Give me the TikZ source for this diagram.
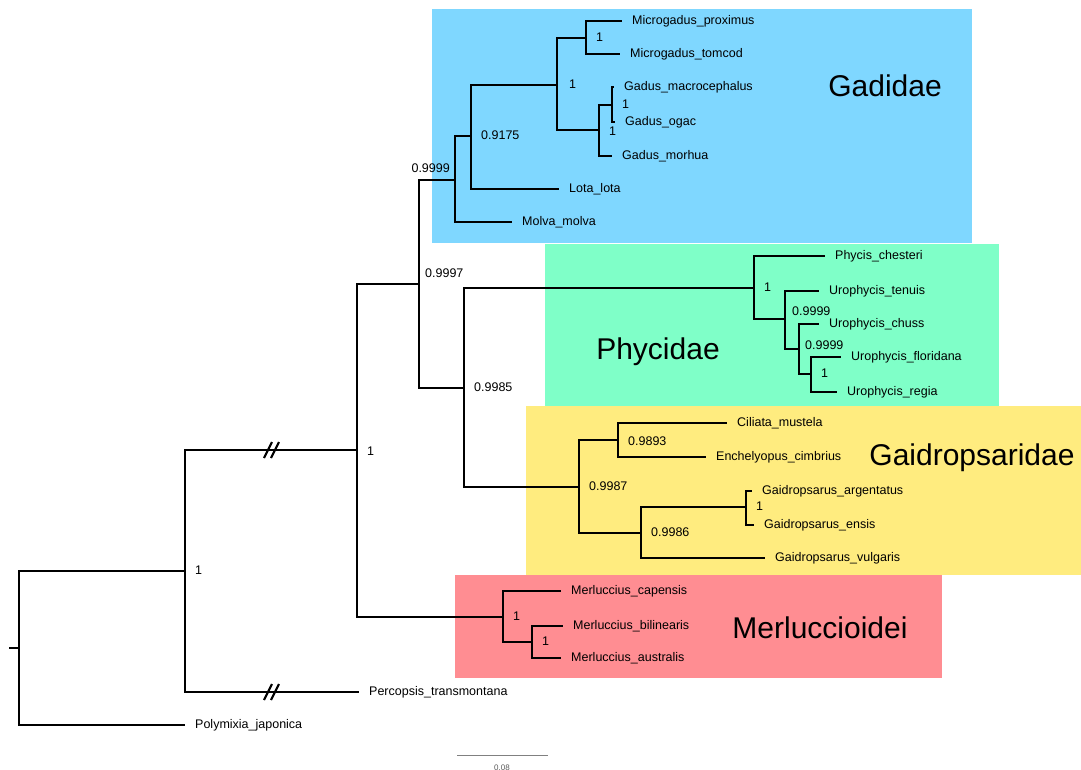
\documentclass[tikz,border=0pt]{standalone}
\usepackage{fontspec}
\setmainfont{Liberation Sans}
\usepackage{tikz}
\usetikzlibrary{positioning}
\usepackage{xcolor}
\definecolor{gadblue}{RGB}{127,215,255}
\definecolor{phygreen}{RGB}{127,255,200}
\definecolor{gaiyellow}{RGB}{255,236,127}
\definecolor{merred}{RGB}{255,141,146}

\begin{document}
\begin{tikzpicture}[x=1pt,y=-1pt]
	\useasboundingbox (0,0) rectangle (1081,770);
	\tikzstyle{every node}=[font=\fontsize{12.5}{14}\selectfont, inner sep=0pt, text height=7pt, text depth=0pt]
	\tikzstyle{leaf}=[anchor=west, inner xsep=10pt]
	\tikzstyle{supp}=[anchor=west, inner xsep=10pt]
	\tikzstyle{clade}=[font=\fontsize{30}{34}\selectfont, text height=22pt]
	\tikzstyle{branch}=[line width=2.7pt]
	\tikzstyle{brk}=[line width=2.2pt]
	\fill [gadblue] (432,9) rectangle (972,243);
	\fill [phygreen] (545,244) rectangle (999,406);
	\fill [gaiyellow] (526,406) rectangle (1081,575);
	\fill [merred] (455,575) rectangle (942,678);
	\draw (885,86) node (gadidae) [clade] {Gadidae};
	\draw (658,348) node (phycidae) [clade] {Phycidae};
	\draw (972,454) node (gaidrop) [clade] {Gaidropsaridae};
	\draw (820,627) node (merluc) [clade] {Merluccioidei};
	\path (9,648) coordinate (stub) (19,648) coordinate (nR) (185,571) coordinate (nA) (357,450) coordinate (nB)
		(419,284) coordinate (nC) (455,180) coordinate (nD) (471,136) coordinate (nE) (557,85) coordinate (nF)
		(586,38) coordinate (nG) (599,130) coordinate (nH) (612,105) coordinate (nI) (464,388) coordinate (nJ)
		(754,288) coordinate (nK) (785,319) coordinate (nL) (799,349) coordinate (nM) (811,374) coordinate (nN)
		(579,487) coordinate (nO) (618,440) coordinate (nP) (641,533) coordinate (nQ) (746,507) coordinate (nU)
		(503,617) coordinate (nS) (532,642) coordinate (nT);
	\draw (622,21) node (mprox) [leaf] {Microgadus\_proximus};
	\draw (620,54) node (mtom) [leaf] {Microgadus\_tomcod};
	\draw (614,87) node (gmac) [leaf] {Gadus\_macrocephalus};
	\draw (615,122) node (gogac) [leaf] {Gadus\_ogac};
	\draw (612,156) node (gmor) [leaf] {Gadus\_morhua};
	\draw (559,189) node (lota) [leaf] {Lota\_lota};
	\draw (512,222) node (molva) [leaf] {Molva\_molva};
	\draw (825,256) node (pches) [leaf] {Phycis\_chesteri};
	\draw (819,291) node (uten) [leaf] {Urophycis\_tenuis};
	\draw (819,324) node (uchu) [leaf] {Urophycis\_chuss};
	\draw (841,357) node (uflo) [leaf] {Urophycis\_floridana};
	\draw (837,392) node (ureg) [leaf] {Urophycis\_regia};
	\draw (727,423) node (cmus) [leaf] {Ciliata\_mustela};
	\draw (706,457) node (ecim) [leaf] {Enchelyopus\_cimbrius};
	\draw (752,491) node (garg) [leaf] {Gaidropsarus\_argentatus};
	\draw (754,525) node (gens) [leaf] {Gaidropsarus\_ensis};
	\draw (765,558) node (gvul) [leaf] {Gaidropsarus\_vulgaris};
	\draw (561,591) node (mcap) [leaf] {Merluccius\_capensis};
	\draw (563,626) node (mbil) [leaf] {Merluccius\_bilinearis};
	\draw (561,658) node (maus) [leaf] {Merluccius\_australis};
	\draw (359,692) node (perc) [leaf] {Percopsis\_transmontana};
	\draw (185,725) node (poly) [leaf] {Polymixia\_japonica};
	\draw [branch] (stub) -- (nR);
	\draw [branch] (nR) |- (nA) (nR) |- (poly.west);
	\draw [branch] (nA) |- (nB) (nA) |- (perc.west);
	\draw [branch] (nB) |- (nC) (nB) |- (nS);
	\draw [branch] (nC) |- (nD) (nC) |- (nJ);
	\draw [branch] (nD) |- (nE) (nD) |- (molva.west);
	\draw [branch] (nE) |- (nF) (nE) |- (lota.west);
	\draw [branch] (nF) |- (nG) (nF) |- (nH);
	\draw [branch] (nG) |- (mprox.west) (nG) |- (mtom.west);
	\draw [branch] (nH) |- (nI) (nH) |- (gmor.west);
	\draw [branch] (nI) |- (gmac.west) (nI) |- (gogac.west);
	\draw [branch] (nJ) |- (nK) (nJ) |- (nO);
	\draw [branch] (nK) |- (pches.west) (nK) |- (nL);
	\draw [branch] (nL) |- (uten.west) (nL) |- (nM);
	\draw [branch] (nM) |- (uchu.west) (nM) |- (nN);
	\draw [branch] (nN) |- (uflo.west) (nN) |- (ureg.west);
	\draw [branch] (nO) |- (nP) (nO) |- (nQ);
	\draw [branch] (nP) |- (cmus.west) (nP) |- (ecim.west);
	\draw [branch] (nQ) |- (nU) (nQ) |- (gvul.west);
	\draw [branch] (nU) |- (garg.west) (nU) |- (gens.west);
	\draw [branch] (nS) |- (mcap.west) (nS) |- (nT);
	\draw [branch] (nT) |- (mbil.west) (nT) |- (maus.west);
	\draw [brk] (264,458) -- (272,442) (271,458) -- (279,442);
	\draw [brk] (264,700) -- (272,684) (271,700) -- (279,684);
	\draw (nA) node (sA) [supp] {1};
	\draw (nB) node (sB) [supp, yshift=-2pt] {1};
	\draw (nC) node (sC) [supp, xshift=-4pt, yshift=10pt] {0.9997};
	\draw (nD) node (sD) [anchor=south east, xshift=-5pt, yshift=7pt] {0.9999};
	\draw (nE) node (sE) [supp] {0.9175};
	\draw (nF) node (sF) [supp, xshift=2pt] {1};
	\draw (nG) node (sG) [supp] {1};
	\draw (nH) node (sH) [supp, yshift=-2pt] {1};
	\draw (nI) node (sI) [supp] {1};
	\draw (nJ) node (sJ) [supp] {0.9985};
	\draw (nK) node (sK) [supp] {1};
	\draw (nL) node (sL) [supp, xshift=-3pt, yshift=7pt] {0.9999};
	\draw (nM) node (sM) [supp, xshift=-4pt, yshift=3pt] {0.9999};
	\draw (nN) node (sN) [supp] {1};
	\draw (nO) node (sO) [supp] {0.9987};
	\draw (nP) node (sP) [supp, yshift=-2pt] {0.9893};
	\draw (nQ) node (sQ) [supp] {0.9986};
	\draw (nU) node (sU) [supp] {1};
	\draw (nS) node (sS) [supp] {1};
	\draw (nT) node (sT) [supp] {1};
	\path (457,755) coordinate (barL) (548,755) coordinate (barR);
	\draw [gray, line width=0.8pt] (barL) -- (barR);
	\draw (502,767) node (barlab) [font=\fontsize{8}{9}\selectfont, text height=6pt, text=gray!70!black] {0.08};
\end{tikzpicture}
\end{document}
